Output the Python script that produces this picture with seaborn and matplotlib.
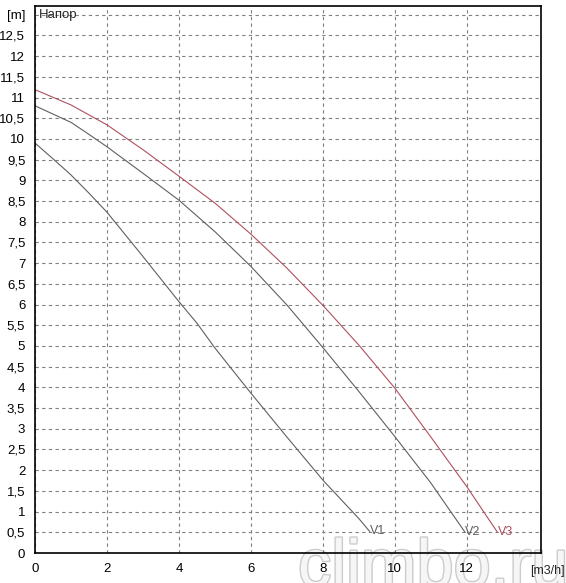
import numpy as np
import pandas as pd
import matplotlib
matplotlib.use("Agg")
import matplotlib.pyplot as plt
import matplotlib.patheffects as pe
import seaborn as sns
from matplotlib.ticker import MultipleLocator, FixedLocator, FuncFormatter

# pump curves (flow m3/h -> head m)
q_v1 = [0, 0.5, 1, 1.5, 2, 3, 4, 4.5, 5, 6, 7, 8, 9, 9.3]
h_v1 = [9.9, 9.52, 9.13, 8.69, 8.23, 7.16, 6.07, 5.55, 4.95, 3.86, 2.8, 1.76, 0.83, 0.52]
q_v2 = [0, 0.5, 1, 1.5, 2, 3, 4, 5, 6, 7, 8, 9, 10, 11, 11.95]
h_v2 = [10.8, 10.6, 10.4, 10.11, 9.81, 9.17, 8.52, 7.76, 6.92, 5.99, 4.96, 3.9, 2.81, 1.69, 0.5]
q_v3 = [0, 1, 2, 3, 4, 5, 6, 7, 8, 9, 10, 11, 12, 12.85]
h_v3 = [11.19, 10.82, 10.34, 9.74, 9.1, 8.45, 7.7, 6.88, 5.98, 5.02, 3.98, 2.8, 1.6, 0.5]
colors = {"V1": "#606060", "V2": "#606060", "V3": "#b0505e"}

df = pd.concat([
    pd.DataFrame({"Q": q_v1, "H": h_v1, "curve": "V1"}),
    pd.DataFrame({"Q": q_v2, "H": h_v2, "curve": "V2"}),
    pd.DataFrame({"Q": q_v3, "H": h_v3, "curve": "V3"}),
], ignore_index=True)

sns.set_style("white")
plt.rcParams['font.family'] = ['Liberation Sans', 'DejaVu Sans']

fig = plt.figure(figsize=(5.66, 5.83), dpi=100, facecolor="white")
ax = fig.add_axes([35 / 566, 30 / 583, 506 / 566, 547 / 583])
ax.patch.set_alpha(0)

sns.lineplot(data=df, x="Q", y="H", hue="curve", palette=colors,
             estimator=None, sort=False, linewidth=0.8, legend=False, ax=ax)

for name, q, h in [("V1", q_v1, h_v1), ("V2", q_v2, h_v2), ("V3", q_v3, h_v3)]:
    ax.text(q[-1], h[-1], name, fontsize=9, color=colors[name], ha="left", va="center")

ax.set_xlim(0, 14.06)
ax.set_ylim(0, 13.21)
ax.set_xlabel("")
ax.set_ylabel("")

ax.xaxis.set_major_locator(FixedLocator([0, 2, 4, 6, 8, 10, 12]))
ax.xaxis.set_minor_locator(MultipleLocator(0.5))
ax.yaxis.set_major_locator(MultipleLocator(0.5))
ax.yaxis.set_minor_locator(MultipleLocator(0.1))


def yfmt(v, _):
    if abs(v - 13) < 1e-6:
        return "[m]"
    return f"{v:g}".replace(".", ",")


ax.yaxis.set_major_formatter(FuncFormatter(yfmt))
ax.xaxis.set_major_formatter(FuncFormatter(lambda v, _: f"{v:g}"))

ax.tick_params(axis="both", which="major", direction="out", length=5, width=1,
               labelsize=9.5, pad=2, colors="black")
ax.tick_params(axis="both", which="minor", direction="out", length=3, width=1)

ax.grid(True, which="major", linestyle=(0, (3, 3)), color="#808080", linewidth=0.8)
for s in ax.spines.values():
    s.set_color("black")
    s.set_linewidth(1.2)

ax.text(0.12, 13, "Напор", fontsize=9.5, ha="left", va="center")
ax.text(13.75, -0.3, "[m3/h]", fontsize=9, ha="left", va="top", clip_on=False)

# watermark, behind the axes content
fig.text(298 / 566, -3 / 583, "climbo.ru", fontsize=48, color="#f6f6f6",
         ha="left", va="baseline",
         path_effects=[pe.withStroke(linewidth=2, foreground="#cccccc")], zorder=-1)

fig.savefig("out.png", dpi=100)
